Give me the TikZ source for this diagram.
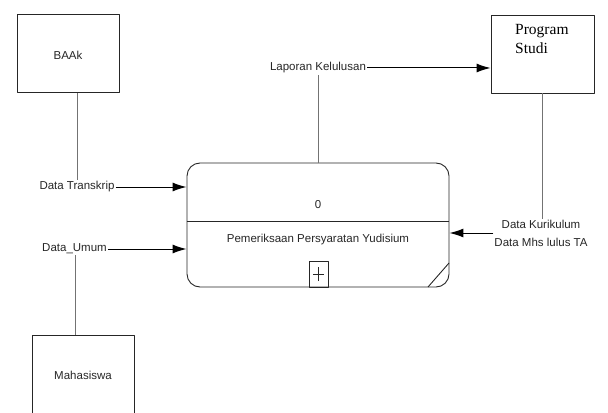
\documentclass[tikz,border=0pt]{standalone}
\usepackage{fontspec}
\setmainfont{Liberation Serif}
\newfontfamily\dfdfont{Liberation Sans}
\usetikzlibrary{arrows.meta}
\tikzset{
  ent/.style={draw=black!85,line width=0.9bp,minimum width=102bp,minimum height=78bp,inner sep=0pt},
  flowlbl/.style={font=\dfdfont\fontsize{11.5bp}{13bp}\selectfont,text=black!85,inner sep=1bp},
  link/.style={draw=black!55,line width=1bp},
}
\begin{document}
\begin{tikzpicture}[>={Latex[length=14bp,width=9bp]},line join=bevel,x=1bp,y=1bp]
\useasboundingbox (0,0) rectangle (608,412);
%%
\node (node_baak) at (68.0bp,358.5bp) [ent] {};
  \node (lbl_baak) at (68.0bp,357.0bp) [flowlbl] {BAAk};
  \node (node_prodi) at (542.5bp,358.0bp) [ent,minimum width=103bp] {};
  \node (lbl_prodi) at (515.0bp,388.0bp) [anchor=north west,align=left,inner sep=0pt,font=\fontsize{15.5bp}{19bp}\selectfont] {Program\\Studi};
  \node (node_mhs) at (83.0bp,38.0bp) [ent,minimum height=78bp] {};
  \node (lbl_mhs) at (83.0bp,37.0bp) [flowlbl] {Mahasiswa};
  \node (node_proc) at (318.0bp,187.0bp) [draw=black!85,line width=0.9bp,rounded corners=13bp,minimum width=262bp,minimum height=124bp] {};
  \node (lbl_num) at (318.0bp,207.0bp) [flowlbl] {0};
  \node (lbl_proc) at (318.0bp,172.0bp) [flowlbl] {Pemeriksaan Persyaratan Yudisium};
  \node (node_plus) at (318.5bp,138.0bp) [draw=black!85,line width=0.8bp,minimum width=19bp,minimum height=26bp,inner sep=0pt] {};
  \node (node_3) at (77.0bp,225.0bp) [flowlbl] {Data Transkrip};
  \node (node_4) at (74.5bp,163.0bp) [flowlbl] {Data\_Umum};
  \node (node_5) at (318.0bp,344.0bp) [flowlbl] {Laporan Kelulusan};
  \node (node_6) at (541.0bp,179.0bp) [flowlbl,align=center,font=\dfdfont\fontsize{11.5bp}{18bp}\selectfont] {Data Kurikulum\\Data Mhs lulus TA};
  \draw [black!85,line width=0.9bp] (node_proc.west |- 0,191) -- (node_proc.east |- 0,191);
  \draw [black!85,line width=0.9bp] (428,125) -- (449,149);
  \draw [black!85,line width=0.8bp] (318.5,131) -- (318.5,145) (313,138) -- (324,138);
  \draw [link] (node_baak.south -| 77,0) -- (node_3.north -| 77,0);
  \draw [black,line width=1bp,->] (node_3) -- (node_proc.west |- node_3);
  \draw [link] (node_mhs.north -| 75,0) -- (node_4.south -| 75,0);
  \draw [black,line width=1bp,->] (node_4) -- (node_proc.west |- node_4);
  \draw [link] (node_proc.north) -- (node_5.south);
  \draw [black,line width=1bp,->] (node_5) -- (node_prodi.west |- node_5);
  \draw [link] (node_prodi.south -| 542,0) -- (node_6.north -| 542,0);
  \draw [black,line width=1bp,->] (node_6) -- (node_proc.east |- node_6);
%
\end{tikzpicture}
\end{document}
